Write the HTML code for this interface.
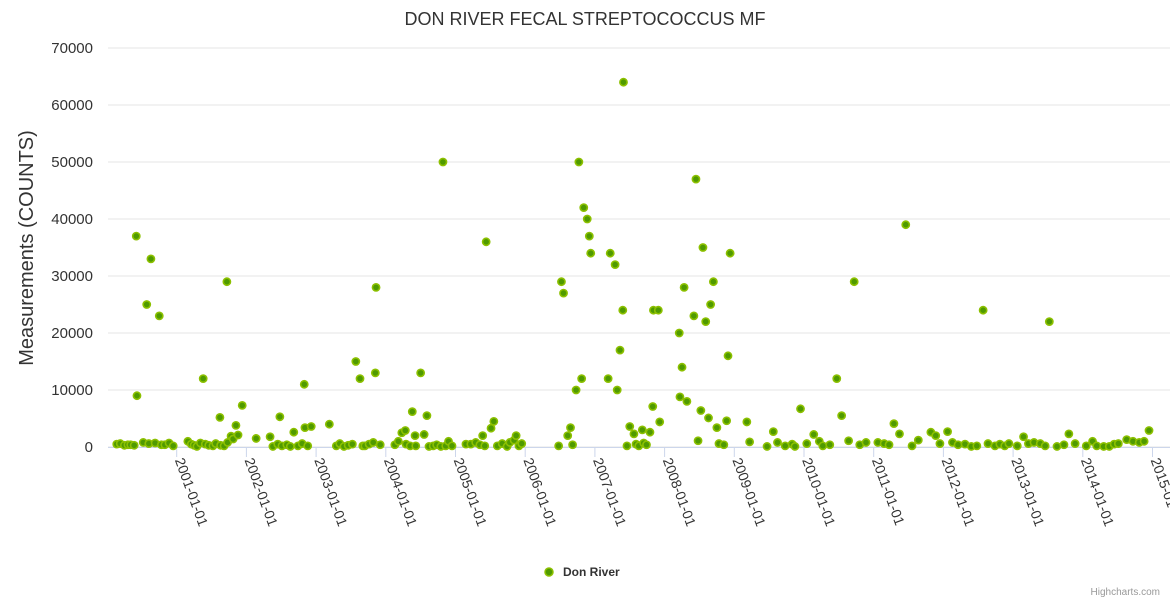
<!DOCTYPE html>
<html><head><meta charset="utf-8"><style>
body{margin:0;background:#fff;font-family:"Liberation Sans",sans-serif}
svg{display:block}
</style></head><body>
<svg id="chart" width="1170" height="600" font-family="Liberation Sans, sans-serif">
<text x="585" y="25" text-anchor="middle" font-size="18" fill="#333">DON RIVER FECAL STREPTOCOCCUS MF</text>
<text transform="translate(33,248) rotate(-90)" text-anchor="middle" font-size="20" fill="#333">Measurements (COUNTS)</text>
<g id="grid"></g><g id="xaxis"></g><g id="points"></g>
<g>
<circle cx="549" cy="572" r="4" fill="#4f9a00" stroke="#8cc000" stroke-width="1.5"/>
<text x="563" y="576" font-size="12" font-weight="bold" fill="#333">Don River</text></g>
<text x="1160" y="595" text-anchor="end" font-size="10" fill="#999">Highcharts.com</text>
</svg>
<script>
const yTicks=[0,10000,20000,30000,40000,50000,60000,70000];
const xTickYears=[2001,2002,2003,2004,2005,2006,2007,2008,2009,2010,2011,2012,2013,2014,2015];
const dates=[2000.14,2000.19,2000.25,2000.30,2000.34,2000.39,2000.42,2000.43,2000.52,2000.57,2000.60,2000.63,2000.69,2000.75,2000.78,2000.83,2000.89,2000.95,
2001.16,2001.21,2001.25,2001.29,2001.34,2001.38,2001.41,2001.46,2001.52,2001.56,2001.62,2001.63,2001.68,2001.72,2001.73,2001.78,2001.81,2001.85,2001.88,2001.94,
2002.14,2002.34,2002.38,2002.45,2002.48,2002.51,2002.58,2002.63,2002.68,2002.74,2002.80,2002.83,2002.84,2002.88,2002.93,
2003.19,2003.29,2003.34,2003.40,2003.46,2003.52,2003.57,2003.63,2003.67,2003.70,2003.76,2003.82,2003.85,2003.86,2003.92,
2004.13,2004.18,2004.23,2004.28,2004.29,2004.35,2004.38,2004.42,2004.43,2004.50,2004.55,2004.59,2004.62,2004.68,2004.73,2004.79,2004.82,2004.86,2004.90,2004.95,
2005.15,2005.22,2005.29,2005.35,2005.39,2005.42,2005.44,2005.51,2005.55,2005.60,2005.67,2005.74,2005.78,2005.84,2005.87,2005.91,2005.95,
2006.48,2006.52,2006.55,2006.61,2006.65,2006.68,2006.73,2006.77,2006.81,2006.84,2006.89,2006.92,2006.94,
2007.19,2007.22,2007.29,2007.32,2007.36,2007.40,2007.41,2007.46,2007.50,2007.56,2007.59,2007.63,2007.68,2007.70,2007.74,2007.79,2007.83,2007.84,2007.91,2007.93,
2008.21,2008.22,2008.25,2008.28,2008.32,2008.42,2008.45,2008.48,2008.52,2008.55,2008.59,2008.63,2008.66,2008.70,2008.75,2008.78,2008.85,2008.89,2008.91,2008.94,
2009.18,2009.22,2009.47,2009.56,2009.62,2009.73,2009.83,2009.87,2009.95,
2010.04,2010.14,2010.22,2010.27,2010.37,2010.47,2010.54,2010.64,2010.72,2010.80,2010.89,
2011.06,2011.15,2011.22,2011.29,2011.37,2011.46,2011.55,2011.64,2011.82,2011.89,2011.95,
2012.06,2012.13,2012.21,2012.31,2012.40,2012.48,2012.57,2012.64,2012.74,2012.81,2012.88,2012.94,
2013.06,2013.15,2013.22,2013.30,2013.39,2013.46,2013.52,2013.63,2013.73,2013.80,2013.89,
2014.05,2014.14,2014.20,2014.30,2014.38,2014.45,2014.51,2014.63,2014.72,2014.81,2014.88,2014.95];
const values=[500,600,300,400,400,300,37000,9000,800,25000,600,33000,700,23000,400,400,700,200,
1000,500,300,100,700,12000,500,300,200,600,5200,300,200,29000,800,1900,1400,3800,2100,7300,
1500,1800,100,500,5300,200,400,100,2600,200,600,11000,3400,200,3600,
4000,200,600,100,300,500,15000,12000,200,200,500,800,13000,28000,400,
400,1000,2500,2900,500,200,6200,2000,200,13000,2200,5500,100,200,400,100,50000,200,1000,200,
500,500,800,400,2000,200,36000,3300,4500,200,600,100,800,1200,2000,200,600,
200,29000,27000,2000,3400,400,10000,50000,12000,42000,40000,37000,34000,
12000,34000,32000,10000,17000,24000,64000,200,3600,2300,500,200,3000,700,400,2600,7100,24000,24000,4400,
20000,8800,14000,28000,8000,23000,47000,1100,6400,35000,22000,5100,25000,29000,3400,600,400,4600,16000,34000,
4400,900,100,2700,800,200,500,100,6700,
600,2200,1000,200,400,12000,5500,1100,29000,400,800,
800,600,400,4100,2300,39000,200,1200,2600,2000,600,
2700,800,400,500,100,200,24000,600,200,500,200,600,
200,1800,600,800,600,200,22000,100,400,2300,600,
200,1000,200,100,100,500,600,1300,1000,800,1000,2900];
const NS='http://www.w3.org/2000/svg';
const xs=y=>176.7+(y-2001)*69.7;
const ys=v=>447-v*399/70000;
const mk=(t,a)=>{const e=document.createElementNS(NS,t);for(const k in a)e.setAttribute(k,a[k]);return e;};
const grid=document.getElementById('grid');
yTicks.forEach(t=>{
 const l=mk('line',{x1:108,x2:1170,y1:ys(t),y2:ys(t),stroke:'#e6e6e6','stroke-width':1});
 
 
 grid.appendChild(l);
 const tx=mk('text',{x:93,y:ys(t)+5,'text-anchor':'end','font-size':15,fill:'#333'});
 tx.textContent=t;
 
 
 grid.appendChild(tx);
});
const xa=document.getElementById('xaxis');
const al=mk('line',{x1:108,x2:1170,y1:447.5,y2:447.5,stroke:'#ccd6eb','stroke-width':1});


xa.appendChild(al);
xTickYears.forEach(yr=>{
 const x=xs(yr);
 const tk=mk('line',{x1:x,x2:x,y1:447,y2:457,stroke:'#ccd6eb','stroke-width':1});
 
 
 xa.appendChild(tk);
 const tx=mk('text',{transform:`translate(${x-2},${460}) rotate(70)`,'font-size':14,fill:'#333'});
 tx.textContent=yr+'-01-01';
 
 
 xa.appendChild(tx);
});
const pg=document.getElementById('points');
dates.forEach((d,i)=>{
 const c=mk('circle',{cx:xs(d),cy:ys(values[i]),r:3.6,fill:'#4f9a00',stroke:'#8cc000','stroke-width':1.6});
 
 
 pg.appendChild(c);
});
</script>
</body></html>
